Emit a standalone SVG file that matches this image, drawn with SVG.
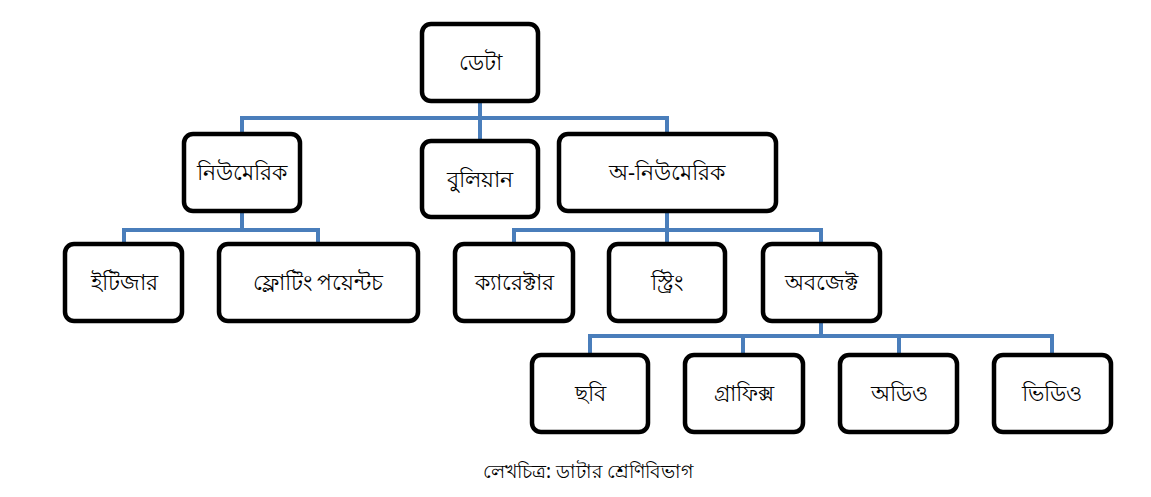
<svg xmlns="http://www.w3.org/2000/svg" width="1151" height="497" viewBox="0 0 1151 497">
<style>
.box{fill:#fff;stroke:#000;stroke-width:4.5}
.lbl{font-family:"Noto Sans","Liberation Sans",sans-serif;font-size:22px;fill:#000;text-anchor:middle;dominant-baseline:central}
.cap{font-family:"Noto Sans","Liberation Sans",sans-serif;font-size:19px;fill:#000;text-anchor:middle;dominant-baseline:central}
.con{fill:none;stroke:#4A7EBB;stroke-width:4}
</style>
<rect width="1151" height="497" fill="#fff"/>
<g id="connectors">
<path class="con" d="M480,102 V141 M242,133 V118 H667 V133"/>
<path class="con" d="M242,210 V230 M124,244 V230 H318 V244"/>
<path class="con" d="M667,210 V230 M514,244 V230 H821 V244 M667,230 V244"/>
<path class="con" d="M821,321 V336 M590,355 V336 H1052 V355 M743,336 V355 M899,336 V355"/>
</g>
<g id="data"><rect class="box" x="422" y="24" width="116" height="77" rx="9"/><text class="lbl" x="480" y="61">ডেটা</text></g>
<g id="numeric"><rect class="box" x="184" y="134" width="116" height="77" rx="9"/><text class="lbl" x="242" y="171">নিউমেরিক</text></g>
<g id="boolean"><rect class="box" x="422" y="141" width="116" height="76" rx="9"/><text class="lbl" x="480" y="178">বুলিয়ান</text></g>
<g id="nonnumeric"><rect class="box" x="559" y="134" width="217" height="77" rx="9"/><text class="lbl" x="667" y="171">অ-নিউমেরিক</text></g>
<g id="integer"><rect class="box" x="65" y="244" width="117" height="77" rx="9"/><text class="lbl" x="124" y="281">ইটিজার</text></g>
<g id="float"><rect class="box" x="219" y="244" width="199" height="77" rx="9"/><text class="lbl" x="318" y="281">ফ্লোটিং পয়েন্টচ</text></g>
<g id="character"><rect class="box" x="455" y="244" width="118" height="77" rx="9"/><text class="lbl" x="514" y="281">ক্যারেক্টার</text></g>
<g id="string"><rect class="box" x="609" y="244" width="116" height="77" rx="9"/><text class="lbl" x="667" y="281">স্ট্রিং</text></g>
<g id="object"><rect class="box" x="763" y="244" width="117" height="77" rx="9"/><text class="lbl" x="821" y="281">অবজেক্ট</text></g>
<g id="image"><rect class="box" x="532" y="355" width="116" height="77" rx="9"/><text class="lbl" x="590" y="392">ছবি</text></g>
<g id="graphics"><rect class="box" x="685" y="355" width="118" height="77" rx="9"/><text class="lbl" x="744" y="392">গ্রাফিক্স</text></g>
<g id="audio"><rect class="box" x="840" y="355" width="117" height="77" rx="9"/><text class="lbl" x="899" y="392">অডিও</text></g>
<g id="video"><rect class="box" x="994" y="355" width="117" height="77" rx="9"/><text class="lbl" x="1052" y="392">ভিডিও</text></g>
<text class="cap" x="588" y="471">লেখচিত্র: ডাটার শ্রেণিবিভাগ</text>
</svg>
